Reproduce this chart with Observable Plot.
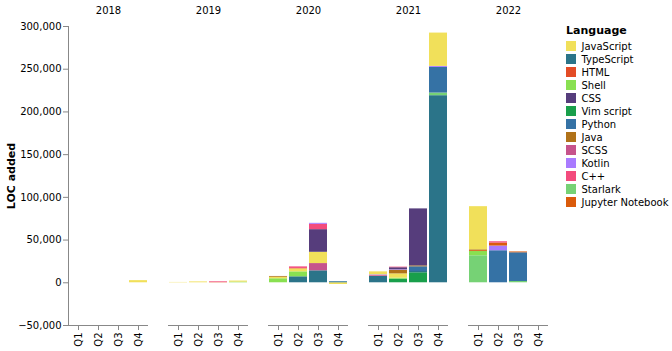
<!DOCTYPE html>
<html><head><meta charset="utf-8">
<script src="https://cdn.jsdelivr.net/npm/d3@7"></script>
<script src="https://cdn.jsdelivr.net/npm/@observablehq/plot@0.6"></script>
<style>
body{margin:0;background:#fff;font-family:"DejaVu Sans",sans-serif;}
#wrap{position:relative;width:672px;height:351px;overflow:hidden;}
#chart{position:absolute;left:0;top:0;}
#legend{position:absolute;left:566px;top:24px;font-size:10px;color:#000;}
#legend .title{font-weight:bold;font-size:11px;line-height:13px;height:13px;margin-bottom:2.5px;}
#legend .row{display:flex;align-items:center;height:13px;line-height:13px;white-space:nowrap;}
#legend .sw{width:10px;height:10px;margin-right:5.5px;flex:none;}
svg text{font-weight:normal;}
svg [aria-label="y-axis label"] text{font-weight:bold;font-size:11px;}
</style></head>
<body><div id="wrap"><div id="chart"></div><div id="legend"></div></div>
<script>
const years = ["2018", "2019", "2020", "2021", "2022"];
const quarters = ["Q1", "Q2", "Q3", "Q4"];
const languages = ["JavaScript", "TypeScript", "HTML", "Shell", "CSS", "Vim script", "Python", "Java", "SCSS", "Kotlin", "C++", "Starlark", "Jupyter Notebook"];
const colors = ["#f1e05a", "#2b7489", "#e34c26", "#89e051", "#563d7c", "#199f4b", "#3572a5", "#b07219", "#c6538c", "#a97bff", "#f34b7d", "#76d275", "#da5b0b"];

// [quarter, language, LOC added] in stacking order (bottom to top)
const y2018 = [["Q4", "JavaScript", 2500]];
const y2019 = [
  ["Q1", "JavaScript", 400],
  ["Q2", "JavaScript", 1000],
  ["Q3", "HTML", 500], ["Q3", "C++", 700],
  ["Q4", "Shell", 800], ["Q4", "JavaScript", 1200]
];
const y2020 = [
  ["Q1", "Shell", 4700], ["Q1", "JavaScript", 1800], ["Q1", "Java", 900],
  ["Q2", "TypeScript", 7000], ["Q2", "Shell", 5800], ["Q2", "JavaScript", 3500], ["Q2", "HTML", 500], ["Q2", "C++", 1800],
  ["Q3", "TypeScript", 14000], ["Q3", "SCSS", 8500], ["Q3", "JavaScript", 13200], ["Q3", "CSS", 26500], ["Q3", "C++", 6200], ["Q3", "Kotlin", 1200],
  ["Q4", "JavaScript", -2000], ["Q4", "TypeScript", 1000], ["Q4", "Python", 500]
];
const y2021 = [
  ["Q1", "TypeScript", 7800], ["Q1", "C++", 800], ["Q1", "Kotlin", 700], ["Q1", "JavaScript", 3500],
  ["Q2", "Vim script", 4200], ["Q2", "Shell", 1200], ["Q2", "JavaScript", 5000], ["Q2", "Java", 4300], ["Q2", "Kotlin", 600], ["Q2", "CSS", 2300], ["Q2", "C++", 700],
  ["Q3", "Vim script", 11700], ["Q3", "TypeScript", 1500], ["Q3", "Python", 5500], ["Q3", "Java", 1100], ["Q3", "CSS", 66700],
  ["Q4", "TypeScript", 219000], ["Q4", "Starlark", 3100], ["Q4", "Python", 30000], ["Q4", "Kotlin", 1200], ["Q4", "JavaScript", 39000]
];
const y2022 = [
  ["Q1", "Starlark", 31600], ["Q1", "Shell", 5000], ["Q1", "Jupyter Notebook", 1000], ["Q1", "Java", 1000], ["Q1", "JavaScript", 50500],
  ["Q2", "Python", 37500], ["Q2", "Kotlin", 5500], ["Q2", "Jupyter Notebook", 3500], ["Q2", "C++", 1500],
  ["Q3", "Starlark", 1500], ["Q3", "Python", 33600], ["Q3", "Jupyter Notebook", 1000]
];

const byYear = [y2018, y2019, y2020, y2021, y2022];
const rows = byYear.flatMap((arr, i) => arr.map(([quarter, language, loc]) => ({year: years[i], quarter, language, loc})));

const chart = Plot.plot({
  width: 560,
  height: 351,
  marginTop: 26,
  marginBottom: 26,
  marginLeft: 68,
  marginRight: 12,
  style: {fontFamily: "DejaVu Sans, sans-serif", fontSize: "10px", color: "#000", background: "transparent"},
  fx: {domain: years, paddingInner: 0.2, paddingOuter: 0, label: null},
  x: {domain: quarters, paddingInner: 0.1, paddingOuter: 0.05, label: null},
  y: {domain: [-50000, 300000], label: null},
  color: {domain: languages, range: colors},
  marks: [
    Plot.barY(rows, {fx: "year", x: "quarter", y: "loc", fill: "language"}),
    Plot.ruleY([-50000], {stroke: "#888"}),
    Plot.frame({anchor: "left", facetAnchor: "left", stroke: "#888"}),
    Plot.axisY({ticks: 7, tickSize: 5, tickPadding: 2, stroke: "#888", fill: "#000", label: "LOC added", labelAnchor: "center", labelArrow: "none", labelOffset: 61}),
    Plot.axisX({tickRotate: -90, tickSize: 5, tickPadding: 2, stroke: "#888", fill: "#000", label: null}),
    Plot.axisFx({anchor: "top", tickSize: 0, tickPadding: 13, label: null, fill: "#000"})
  ]
});
document.getElementById("chart").appendChild(chart);

const legend = document.getElementById("legend");
const t = document.createElement("div");
t.className = "title";
t.textContent = "Language";
legend.appendChild(t);
languages.forEach((lang, i) => {
  const r = document.createElement("div");
  r.className = "row";
  const s = document.createElement("div");
  s.className = "sw";
  s.style.background = colors[i];
  const l = document.createElement("span");
  l.textContent = lang;
  r.appendChild(s); r.appendChild(l);
  legend.appendChild(r);
});
</script>
</body></html>
